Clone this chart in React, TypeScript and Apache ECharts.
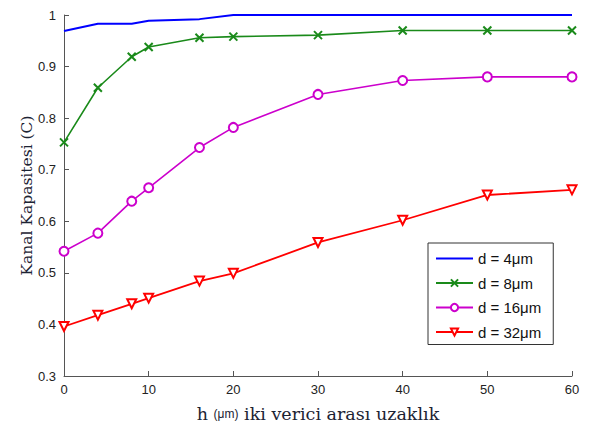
import React, { useEffect, useRef } from "react";
import * as echarts from "echarts";

const hValues = [0, 4, 8, 10, 16, 20, 30, 40, 50, 60];
const d4 = [0.969, 0.983, 0.983, 0.989, 0.992, 1.0, 1.0, 1.0, 1.0, 1.0];
const d8 = [0.753, 0.859, 0.919, 0.938, 0.956, 0.958, 0.961, 0.97, 0.97, 0.97];
const d16 = [0.542, 0.577, 0.639, 0.665, 0.743, 0.782, 0.846, 0.873, 0.88, 0.88];
const d32 = [0.396, 0.418, 0.44, 0.451, 0.484, 0.499, 0.559, 0.602, 0.651, 0.661];
const seriesNames = ["d = 4μm", "d = 8μm", "d = 16μm", "d = 32μm"];

const pair = (ys: number[]) => hValues.map((x, i) => [x, ys[i]]);

export default function App() {
  const ref = useRef<HTMLDivElement>(null);
  useEffect(() => {
    if (!ref.current) return;
    const chart = echarts.init(ref.current, undefined, { renderer: "svg" });
    const sans = "Liberation Sans";
    const serif = "DejaVu Serif";
    const labelColor = "#1c2333";
    chart.setOption({
      animation: false,
      backgroundColor: "#ffffff",
      grid: { left: 64, right: 19, top: 15, bottom: 47, outerBoundsMode: "none", containLabel: false },
      xAxis: {
        type: "value",
        min: 0,
        max: 60,
        interval: 10,
        axisLine: { lineStyle: { color: "#555", width: 1 } },
        axisTick: { inside: true, length: 5, lineStyle: { color: "#555" } },
        splitLine: { show: false },
        axisLabel: { color: "#222", fontFamily: sans, fontSize: 13, margin: 7 },
        name: "h {s|(μm)} iki verici arası uzaklık",
        nameLocation: "middle",
        nameGap: 29,
        nameTextStyle: {
          fontFamily: serif,
          fontSize: 17.5,
          color: labelColor,
          rich: { s: { fontFamily: sans, fontSize: 12, color: labelColor } },
        },
      },
      yAxis: {
        type: "value",
        min: 0.3,
        max: 1,
        interval: 0.1,
        axisLine: { show: true, lineStyle: { color: "#555", width: 1 } },
        axisTick: { show: true, inside: true, length: 5, lineStyle: { color: "#555" } },
        splitLine: { show: false },
        axisLabel: {
          color: "#222",
          fontFamily: sans,
          fontSize: 13,
          margin: 8,
          formatter: (v: number) => String(Math.round(v * 10) / 10),
        },
        name: "Kanal Kapasitesi (C)",
        nameLocation: "middle",
        nameGap: 29,
        nameMoveOverlap: false,
        nameTextStyle: { fontFamily: serif, fontSize: 15.5, color: labelColor },
      },
      legend: {
        orient: "vertical",
        left: 428,
        top: 243,
        width: 129,
        padding: [8, 12, 5, 7],
        itemWidth: 37,
        itemHeight: 9,
        itemGap: 9.5,
        borderColor: "#333",
        borderWidth: 1,
        backgroundColor: "#fff",
        textStyle: { fontFamily: sans, fontSize: 15, color: "#111" },
        data: [
          { name: seriesNames[0], icon: "path://M0,3.5H37V5.5H0Z" },
          seriesNames[1],
          seriesNames[2],
          seriesNames[3],
        ],
      },
      series: [
        {
          name: seriesNames[0],
          type: "line",
          data: pair(d4),
          symbol: "none",
          lineStyle: { color: "#0000ff", width: 2 },
          itemStyle: { color: "#0000ff" },
        },
        {
          name: seriesNames[1],
          type: "line",
          data: pair(d8),
          symbol: "path://M0,0L10,10M10,0L0,10",
          symbolSize: 8,
          lineStyle: { color: "#1a8a1a", width: 1.6 },
          itemStyle: { color: "#1a8a1a", borderColor: "#1a8a1a", borderWidth: 2 },
        },
        {
          name: seriesNames[2],
          type: "line",
          data: pair(d16),
          symbol: "emptyCircle",
          symbolSize: 9,
          lineStyle: { color: "#cc00cc", width: 1.6 },
          itemStyle: { color: "#cc00cc", borderColor: "#cc00cc", borderWidth: 1.6 },
        },
        {
          name: seriesNames[3],
          type: "line",
          data: pair(d32),
          symbol: "emptyTriangle",
          symbolRotate: 180,
          symbolSize: 9,
          lineStyle: { color: "#ff0000", width: 1.8 },
          itemStyle: { color: "#ff0000", borderColor: "#ff0000", borderWidth: 1.5 },
        },
      ],
    });
    return () => chart.dispose();
  }, []);
  return (
    <div
      ref={ref}
      style={{ position: "fixed", left: 0, top: 0, width: 591, height: 423 }}
    />
  );
}
